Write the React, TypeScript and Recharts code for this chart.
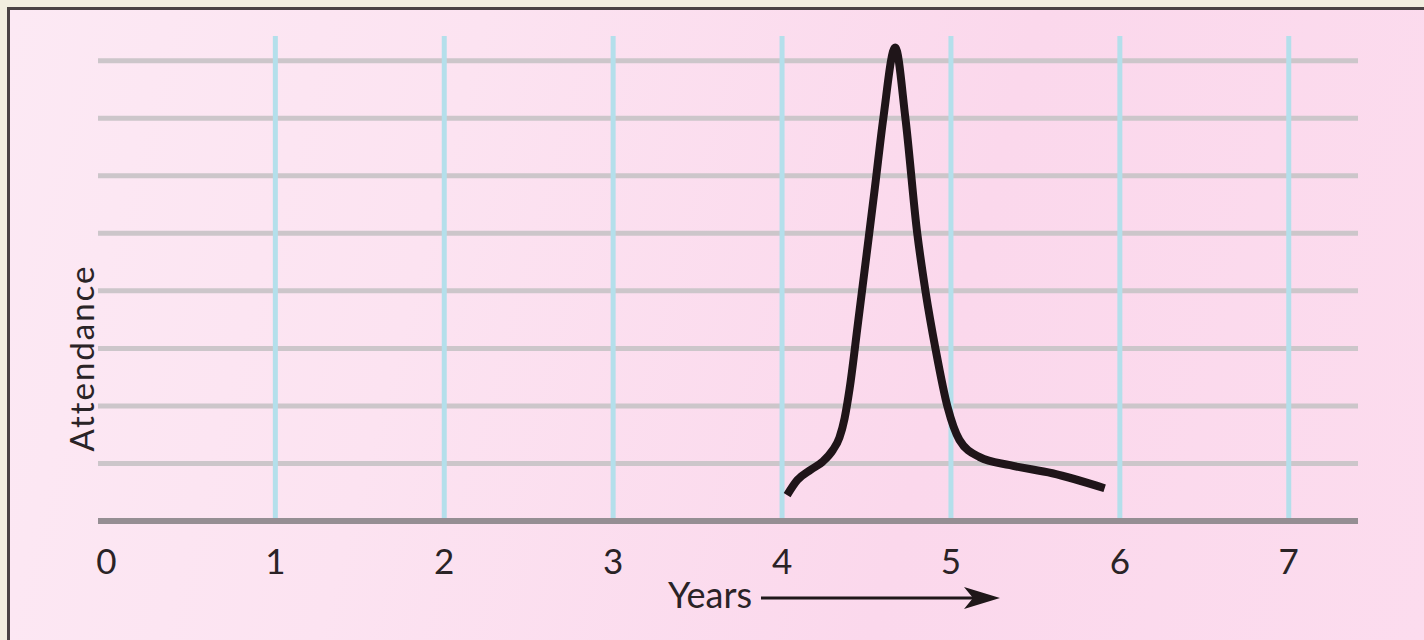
import React from 'react';
import { LineChart, Line, XAxis, YAxis, ReferenceLine } from 'recharts';

// curve (years, relative attendance)
const years = [4.03, 4.09, 4.17, 4.24, 4.3, 4.34, 4.37, 4.4, 4.45, 4.5, 4.55, 4.6, 4.67, 4.73, 4.8, 4.85, 4.91, 4.98, 5.05, 5.17, 5.35, 5.6, 5.91];
const attendance = [0.45, 0.71, 0.89, 1.03, 1.23, 1.45, 1.78, 2.3, 3.45, 4.62, 5.8, 7.01, 8.23, 7.01, 5.01, 3.98, 2.97, 1.98, 1.41, 1.11, 0.97, 0.83, 0.57];

const xTicks = [0, 1, 2, 3, 4, 5, 6, 7];
const gridX = [1, 2, 3, 4, 5, 6, 7];
const gridY = [1, 2, 3, 4, 5, 6, 7, 8];

const xLabel = 'Years';
const yLabel = 'Attendance';

const data = years.map((x, i) => ({ x: x, y: attendance[i] }));

const FONT = 'Lato, "Open Sans", sans-serif';

function YearsLabel(props: any) {
    const vb = props.viewBox || { x: 0, y: 0 };
    const ly = vb.y + 77;
    return (
        <g>
            <text x={vb.x + 654} y={vb.y + 87} textAnchor="end" fontFamily={FONT} fontSize={36} fill="#2a2326">
                {xLabel}
            </text>
            <line x1={vb.x + 663} y1={ly} x2={vb.x + 880} y2={ly} stroke="#1f1719" strokeWidth={3} />
            <path
                d={`M${vb.x + 902},${ly} L${vb.x + 866},${ly - 11} L${vb.x + 875},${ly} L${vb.x + 866},${ly + 11} Z`}
                fill="#1f1719"
            />
        </g>
    );
}

function AttendanceLabel(props: any) {
    const cx = 71;
    const cy = 348;
    return (
        <text
            x={cx}
            y={cy}
            transform={`rotate(-90 ${cx} ${cy})`}
            textAnchor="middle"
            dominantBaseline="central"
            fontFamily={FONT}
            fontSize={33}
            letterSpacing={2}
            fill="#2a2326"
        >
            {yLabel}
        </text>
    );
}

export default function App() {
    return (
        <div style={{ position: 'absolute', left: 0, top: 0, width: 1424, height: 640, background: '#f2eee0', overflow: 'hidden' }}>
            <div
                style={{
                    position: 'absolute',
                    left: 7,
                    top: 7,
                    width: 1414,
                    height: 630,
                    borderLeft: '3px solid #4a4244',
                    borderTop: '3px solid #4a4244',
                    background: 'linear-gradient(105deg, #fce9f4 0%, #fce3f1 30%, #fbd8ec 65%, #fcdcee 100%)',
                }}
            >
                <LineChart width={1414} height={630} data={data} margin={{ top: 26, right: 66, left: 0, bottom: 0 }}>
                    <XAxis
                        dataKey="x"
                        type="number"
                        domain={[-0.05, 7.41]}
                        ticks={xTicks}
                        interval={0}
                        allowDataOverflow={true}
                        height={119}
                        axisLine={{ stroke: '#958e93', strokeWidth: 6 }}
                        tickLine={false}
                        tickSize={0}
                        tickMargin={28}
                        tick={{ fontSize: 35, fill: '#2a2326', fontFamily: FONT }}
                        label={<YearsLabel />}
                    />
                    <YAxis
                        type="number"
                        domain={[0, 8.43]}
                        allowDataOverflow={true}
                        width={88}
                        axisLine={false}
                        tickLine={false}
                        tick={false}
                        label={<AttendanceLabel />}
                    />
                    {gridY.map((v) => (
                        <ReferenceLine key={'h' + v} y={v} stroke="#ccc6ca" strokeWidth={5} />
                    ))}
                    {gridX.map((v) => (
                        <ReferenceLine key={'v' + v} x={v} stroke="#b4dfeb" strokeWidth={5} />
                    ))}
                    <Line
                        type="monotone"
                        dataKey="y"
                        stroke="#1f1519"
                        strokeWidth={8}
                        dot={false}
                        activeDot={false}
                        isAnimationActive={false}
                    />
                </LineChart>
            </div>
        </div>
    );
}
